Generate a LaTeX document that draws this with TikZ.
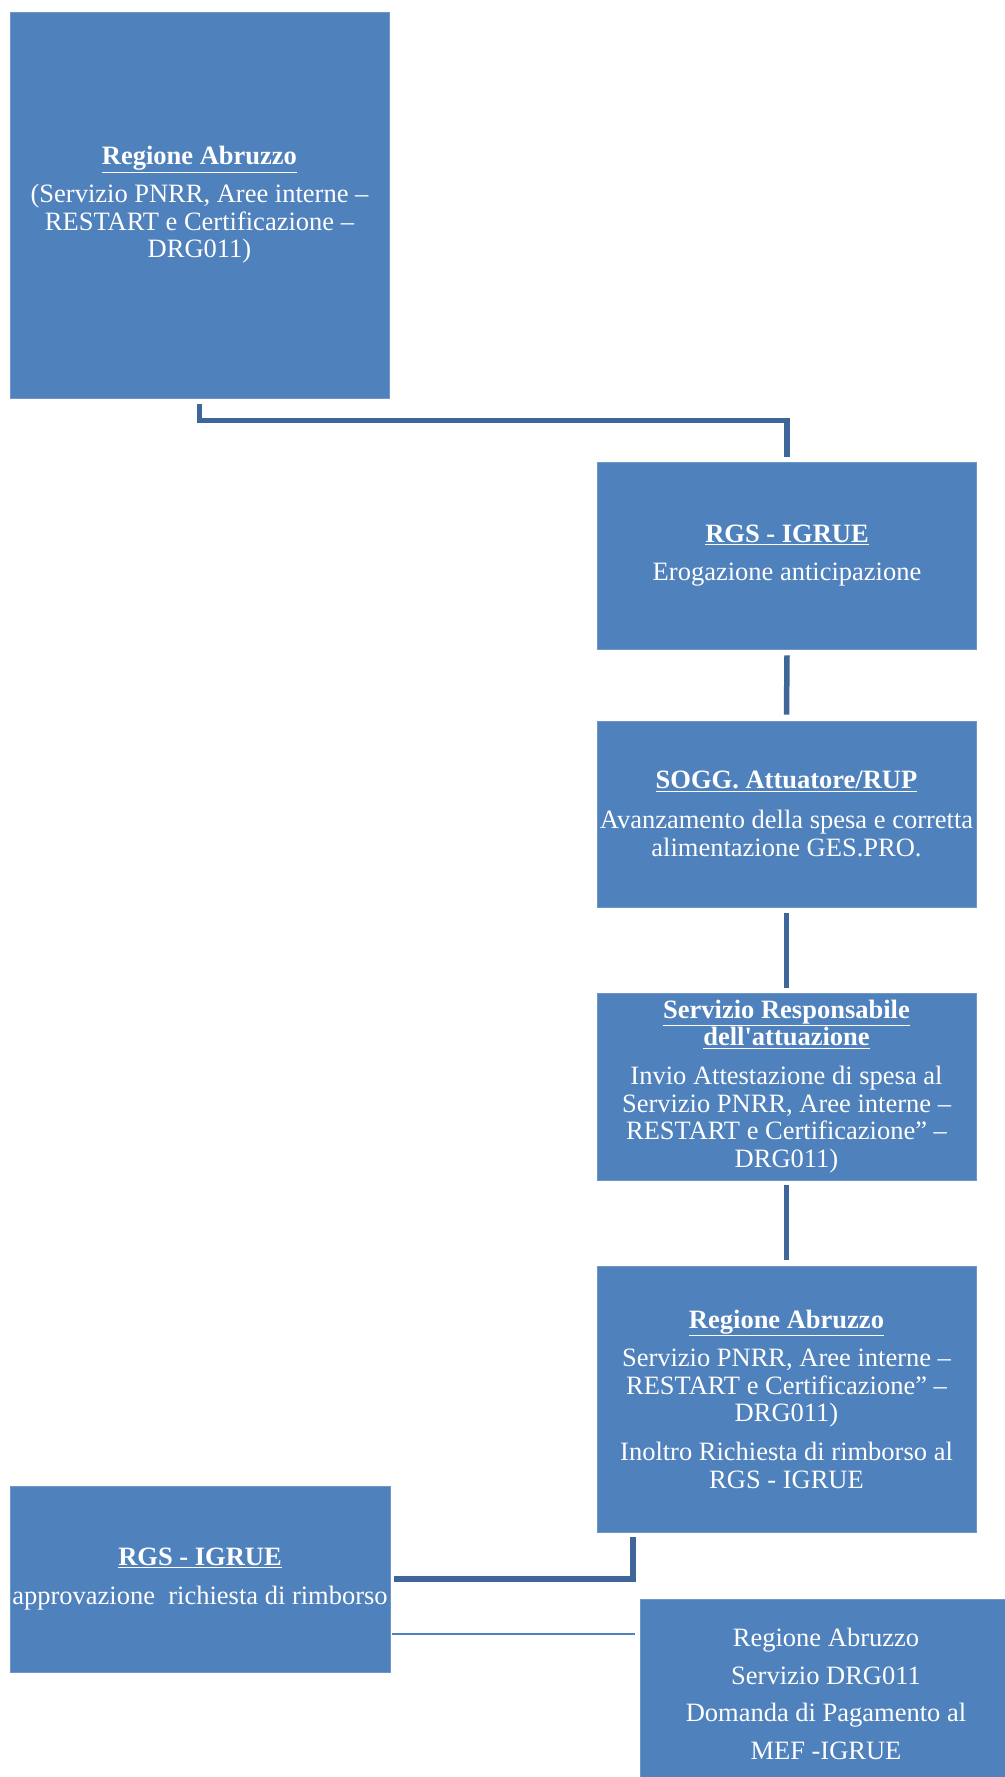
\documentclass[tikz,border=0pt]{standalone}
\usepackage{fontspec}
\setmainfont{Liberation Serif}
\usetikzlibrary{calc}
\definecolor{boxblue}{HTML}{4F81BD}
\definecolor{linkblue}{HTML}{3E6698}
\definecolor{edgeblue}{HTML}{7096C8}
\begin{document}
\begin{tikzpicture}[x=1pt,y=-1pt,
  box/.style={fill=boxblue, draw=edgeblue, line width=0.8pt, inner sep=0pt},
  txt/.style={text=white, align=center, inner sep=0pt, font=\fontsize{26.5}{27.6}\selectfont},
  conn/.style={draw=linkblue, line width=5.5pt},
  thinconn/.style={draw=boxblue, line width=2.5pt}]
\useasboundingbox (0,0) rectangle (1004,1777);

\node[box, minimum width=379pt, minimum height=386pt] (b1) at (199.5,205) {};
\node[box, minimum width=379pt, minimum height=187pt] (b2) at (787,555.5) {};
\node[box, minimum width=379pt, minimum height=186pt] (b3) at (786.5,814) {};
\node[box, minimum width=379pt, minimum height=187pt] (b4) at (786.5,1086.5) {};
\node[box, minimum width=379pt, minimum height=266pt] (b5) at (786.5,1399) {};
\node[box, minimum width=380pt, minimum height=186pt] (b6) at (200,1579) {};
\node[box, minimum width=372pt, minimum height=202pt] (b7) at (826,1700) {};

\node[txt] (t1) at (b1) {\textbf{\underline{Regione Abruzzo}}\\[10.4pt]
  (Servizio PNRR, Aree interne –\\ RESTART e Certificazione –\\ DRG011)};
\node[txt] (t2) at (b2) {\textbf{\underline{RGS - IGRUE}}\\[10.4pt] Erogazione anticipazione};
\node[txt] (t3) at (b3) {\textbf{\underline{SOGG. Attuatore/RUP}}\\[12pt]
  Avanzamento della spesa e corretta\\ alimentazione GES.PRO.};
\node[txt] (t4) at (b4) {\textbf{\underline{Servizio Responsabile}}\\ \textbf{\underline{dell\textquotesingle attuazione}}\\[11pt]
  Invio Attestazione di spesa al\\ Servizio PNRR, Aree interne –\\ RESTART e Certificazione” –\\ DRG011)};
\node[txt] (t5) at (b5) {\textbf{\underline{Regione Abruzzo}}\\[11pt]
  Servizio PNRR, Aree interne –\\ RESTART e Certificazione” –\\ DRG011)\\[11pt]
  Inoltro Richiesta di rimborso al\\ RGS - IGRUE};
\node[txt] (t6) at (b6) {\textbf{\underline{RGS - IGRUE}}\\[12pt] approvazione~ richiesta di rimborso};
\node[txt, font=\fontsize{26.5}{37.7}\selectfont] (t7) at ($(b7.center)+(0,-6)$)
  {Regione Abruzzo\\ Servizio DRG011\\ Domanda di Pagamento al\\ MEF -IGRUE};

\draw[conn] ([yshift=-6pt]b1.south) -- ++(0,16) -| ([yshift=5pt]b2.north);
\draw[conn] ([yshift=-6pt]b2.south) -- ([yshift=6pt]b3.north);
\draw[conn] ([yshift=-6pt]b3.south) -- ([yshift=5pt]b4.north);
\draw[conn] ([yshift=-5pt]b4.south) -- ([yshift=6pt]b5.north);
\draw[conn] ([xshift=-153.5pt,yshift=-5pt]b5.south) |- ([xshift=4pt]b6.east);
\coordinate (c6a) at ([xshift=2pt,yshift=-55pt]b6.east);
\draw[thinconn] (c6a) -- ($(c6a -| b7.west)+(-5,0)$);
\end{tikzpicture}
\end{document}
